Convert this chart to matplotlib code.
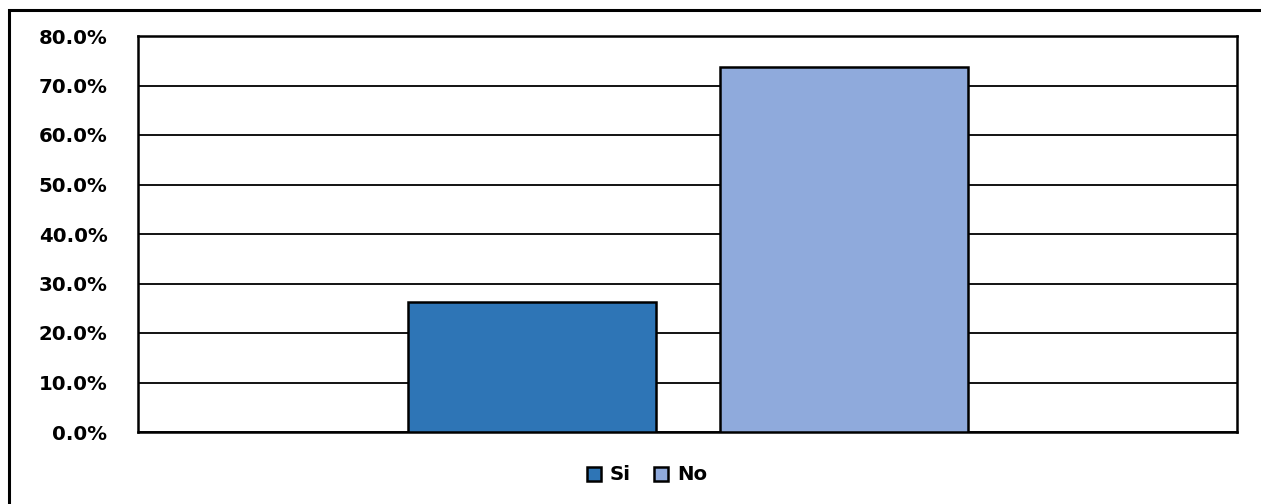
import matplotlib
matplotlib.use("Agg")
import matplotlib.pyplot as plt
from matplotlib.patches import Rectangle
from matplotlib.ticker import FuncFormatter

series = ["Si", "No"]
values = [26.2, 73.8]
colors = ["#2E75B6", "#8FAADC"]
yticks = [0, 10, 20, 30, 40, 50, 60, 70, 80]

plt.rcParams["font.family"] = ["DejaVu Sans"]
plt.rcParams["font.weight"] = "bold"

W, H = 1261, 504
fig = plt.figure(figsize=(W / 100, H / 100), dpi=100)
ax = fig.add_axes([138 / W, (H - 432) / H, (1237 - 138) / W, (432 - 36) / H])

# chart frame, running past the right and bottom edges
fig.patches.append(Rectangle((9 / W, -0.1), 1.2, (H - 10) / H + 0.1,
                             transform=fig.transFigure, fill=False,
                             edgecolor="black", linewidth=2.2, zorder=0))

width = 0.226
offsets = [-0.1415, 0.1425]
handles = []
for name, v, c, off in zip(series, values, colors, offsets):
    b = ax.bar(off, v, width=width, color=c, edgecolor="black",
               linewidth=1.8, label=name, zorder=3)
    handles.append(b)

ax.set_xlim(-0.5, 0.5)
ax.set_ylim(0, 80)
ax.set_yticks(yticks)
ax.yaxis.set_major_formatter(FuncFormatter(lambda y, _: f"{y:.1f}%"))
ax.set_xticks([])
ax.tick_params(axis="y", length=0, pad=22, labelsize=14.2)
for lab in ax.get_yticklabels():
    lab.set_fontweight("bold")
ax.grid(axis="y", color="black", linewidth=1.3, zorder=1)
for s in ax.spines.values():
    s.set_linewidth(1.8)
    s.set_color("black")

leg = fig.legend(handles=handles, labels=series, loc="center",
                 bbox_to_anchor=(647 / W, (H - 475) / H), ncol=2,
                 frameon=False, prop={"weight": "bold", "size": 14.2},
                 handlelength=0.7, handleheight=0.7, handletextpad=0.45,
                 columnspacing=1.2)

fig.savefig("out.png", dpi=100)
